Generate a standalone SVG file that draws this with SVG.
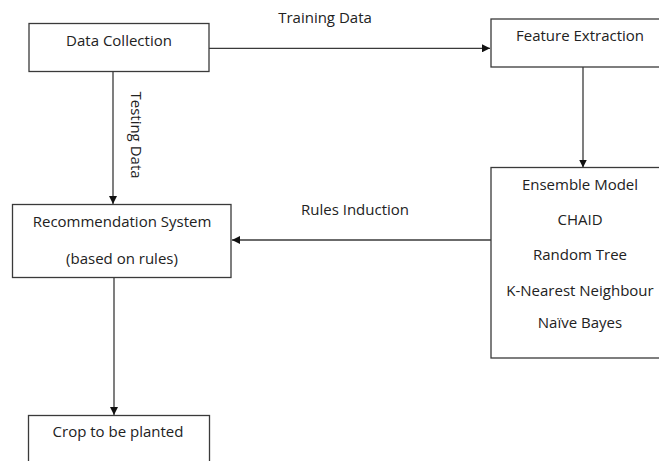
<svg xmlns="http://www.w3.org/2000/svg" width="659" height="461" viewBox="0 0 659 461">
<style>
  .box { fill: #fff; stroke: #3a3a3a; stroke-width: 1.3; }
  .lbl { font-family: "Open Sans", "Liberation Sans", sans-serif; font-size: 15px; fill: #222; text-anchor: middle; }
  .edge { fill: none; stroke: #3a3a3a; stroke-width: 1.3; marker-end: url(#ah); }
</style>
<defs>
  <marker id="ah" viewBox="0 0 10 10" refX="10" refY="5" markerWidth="8" markerHeight="8" markerUnits="userSpaceOnUse" orient="auto">
    <path d="M0,0 L10,5 L0,10 Z" fill="#111"/>
  </marker>
</defs>
<rect width="659" height="461" fill="#fff"/>
<g id="connectors">
  <path class="edge" d="M209,48.3 L490,48.3"/>
  <text class="lbl" x="325" y="23">Training Data</text>
  <path class="edge" d="M113,72 L113,204"/>
  <text class="lbl" transform="translate(131,135) rotate(90)">Testing Data</text>
  <path class="edge" d="M583,67 L583,167.5"/>
  <path class="edge" d="M491,240 L232,240"/>
  <text class="lbl" x="355" y="215">Rules Induction</text>
  <path class="edge" d="M114,277.5 L114,415"/>
</g>
<g id="data-collection">
  <rect class="box" x="29" y="23.5" width="180" height="48"/>
  <text class="lbl" x="119" y="46">Data Collection</text>
</g>
<g id="feature-extraction">
  <rect class="box" x="491" y="19" width="180" height="48"/>
  <text class="lbl" x="580" y="41">Feature Extraction</text>
</g>
<g id="ensemble-model">
  <rect class="box" x="491" y="167.5" width="180" height="190.5"/>
  <text class="lbl" x="580" y="190">Ensemble Model</text>
  <text class="lbl" x="580" y="225">CHAID</text>
  <text class="lbl" x="580" y="260">Random Tree</text>
  <text class="lbl" x="580" y="296">K-Nearest Neighbour</text>
  <text class="lbl" x="580" y="328">Naïve Bayes</text>
</g>
<g id="recommendation-system">
  <rect class="box" x="12.5" y="204.5" width="218.5" height="73"/>
  <text class="lbl" x="122" y="227">Recommendation System</text>
  <text class="lbl" x="122" y="264">(based on rules)</text>
</g>
<g id="crop">
  <rect class="box" x="28.5" y="415.5" width="181" height="60"/>
  <text class="lbl" x="118" y="437">Crop to be planted</text>
</g>
</svg>
